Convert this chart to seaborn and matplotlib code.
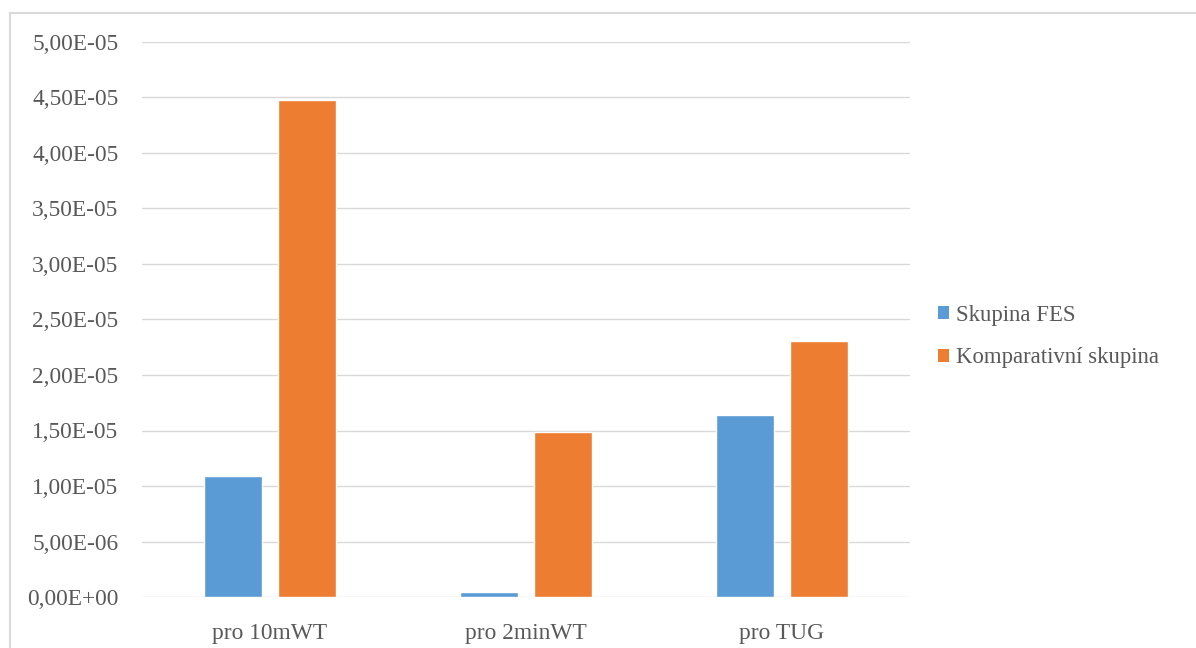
import matplotlib
matplotlib.use("Agg")
import matplotlib.pyplot as plt
from matplotlib.lines import Line2D
from matplotlib.patches import Patch
from matplotlib.ticker import FuncFormatter, MultipleLocator
import pandas as pd
import seaborn as sns

# Values per test and group
categories = ["pro 10mWT", "pro 2minWT", "pro TUG"]
series_names = ["Skupina FES", "Komparativní skupina"]
fes_values = [1.09e-05, 4.2e-07, 1.638e-05]
komp_values = [4.48e-05, 1.485e-05, 2.306e-05]

colors = ["#5B9BD5", "#ED7D31"]
text_color = "#595959"
grid_color = "#D9D9D9"

df = pd.DataFrame({
    "test": categories * 2,
    "group": [series_names[0]] * 3 + [series_names[1]] * 3,
    "value": fes_values + komp_values,
})

sns.set_theme(style="white")
plt.rcParams["font.family"] = ["Liberation Serif", "DejaVu Serif"]

W, H = 1196, 648
fs = 16.8
fig = plt.figure(figsize=(W / 100, H / 100), dpi=100)
ax = fig.add_axes([142 / W, 1 - 597 / H, (910 - 142) / W, (597 - 42) / H])

sns.barplot(data=df, x="test", y="value", hue="group", order=categories,
            hue_order=series_names, palette=colors, width=0.575, gap=0.215,
            saturation=1, ax=ax, legend=False)

ax.set_ylim(0, 5e-05)
ax.set_xlim(-0.5, 2.5)
ax.yaxis.set_major_locator(MultipleLocator(5e-06))
ax.yaxis.set_major_formatter(FuncFormatter(lambda v, p: f"{v:.2E}".replace(".", ",")))
ax.yaxis.grid(True, color=grid_color, linewidth=1.0)
ax.set_axisbelow(True)
for s in ax.spines.values():
    s.set_visible(False)
ax.tick_params(axis="both", length=0, labelsize=fs, colors=text_color)
ax.tick_params(axis="y", pad=17)
ax.tick_params(axis="x", pad=19)
ax.set_xlabel("")
ax.set_ylabel("")

# Legend on the right
handles = [Patch(facecolor=c, edgecolor="none", label=n) for c, n in zip(colors, series_names)]
fig.legend(handles=handles, loc="center left", bbox_to_anchor=(938 / W, 1 - 336.5 / H),
           frameon=False, fontsize=16.4, labelcolor=text_color, handlelength=0.5,
           handleheight=0.5, handletextpad=0.3, labelspacing=0.95, borderpad=0,
           borderaxespad=0)

# Chart area frame (top and left edges)
fig.add_artist(Line2D([9.5 / W, 1.0], [1 - 12.5 / H, 1 - 12.5 / H], color=grid_color,
                      linewidth=1.5, transform=fig.transFigure))
fig.add_artist(Line2D([9.5 / W, 9.5 / W], [0.0, 1 - 12.5 / H], color=grid_color,
                      linewidth=1.5, transform=fig.transFigure))

fig.savefig("out.png", dpi=100, facecolor="white")
